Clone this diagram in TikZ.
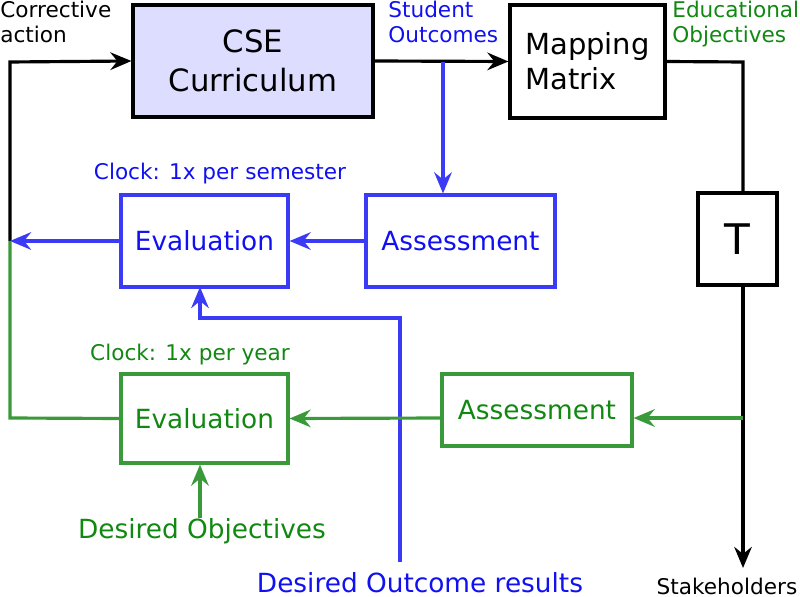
\documentclass[tikz,border=0pt]{standalone}
\usepackage{fontspec}
\setmainfont{DejaVu Sans}
\usetikzlibrary{arrows,arrows.meta,shapes,positioning,calc}
\definecolor{loopblue}{HTML}{3B3BF5}
\definecolor{txtblue}{HTML}{1010F0}
\definecolor{loopgreen}{HTML}{3A9A3A}
\definecolor{txtgreen}{HTML}{118811}
\definecolor{cselav}{HTML}{DDDDFF}
\tikzset{
    box/.style={draw, line width=1.8pt, inner sep=0pt},
    flow/.style={line width=1.8pt, -{Stealth[length=12pt,width=10pt,inset=4pt]}},
    lbl/.style={font=\fontsize{12.3}{14}\selectfont, align=left, inner sep=0pt}
}
\begin{document}
\begin{tikzpicture}[x=0.02cm,y=-0.02cm]
    \useasboundingbox (0,0) rectangle (800,597);
    % Boxes
    \node[box, fill=cselav, minimum width=4.8cm, minimum height=2.24cm, font=\fontsize{17.5}{22}\selectfont, align=center] (cse) at (253,61) {CSE\\Curriculum};
    \node[box, minimum width=3.1cm, minimum height=2.26cm, font=\fontsize{16.5}{20}\selectfont, align=left] (map) at (587.5,61.5) {Mapping\\Matrix};
    \node[box, minimum width=1.58cm, minimum height=1.84cm, font=\fontsize{24}{28}\selectfont] (tau) at (737.5,239) {T};
    \node[box, draw=loopblue, text=txtblue, minimum width=3.78cm, minimum height=1.84cm, font=\fontsize{15}{18}\selectfont] (bassess) at (460.5,241) {Assessment};
    \node[box, draw=loopblue, text=txtblue, minimum width=3.34cm, minimum height=1.84cm, font=\fontsize{15}{18}\selectfont] (beval) at (204.5,241) {Evaluation};
    \node[box, draw=loopgreen, text=txtgreen, minimum width=3.8cm, minimum height=1.44cm, font=\fontsize{15}{18}\selectfont] (gassess) at (537,410) {Assessment};
    \node[box, draw=loopgreen, text=txtgreen, minimum width=3.34cm, minimum height=1.78cm, font=\fontsize{15}{18}\selectfont] (geval) at (204.5,418.5) {Evaluation};
    % Texts
    \node[lbl, anchor=north west] (corr) at (0,1) {Corrective\\action};
    \node[lbl, anchor=north west, text=txtblue] (so) at (388,1) {Student\\Outcomes};
    \node[lbl, anchor=north west, text=txtgreen] (eo) at (672,1) {Educational\\Objectives};
    \node[lbl, text=txtblue] (bclock) at (220,174) {Clock: 1x per semester};
    \node[lbl, text=txtgreen] (gclock) at (190,355) {Clock: 1x per year};
    \node[text=txtgreen, font=\fontsize{15}{18}\selectfont, inner sep=1pt] (dobj) at (202,531) {Desired Objectives};
    \node[text=txtblue, font=\fontsize{15}{18}\selectfont, inner sep=1pt] (dout) at (420,583) {Desired Outcome results};
    \node[lbl] (stake) at (727,586) {Stakeholders};
    % Junctions
    \coordinate (cl) at (10,241);
    \coordinate (so1) at (443,62);
    \coordinate (eo1) at (743,62);
    \coordinate (tj) at (743,418);
    \coordinate (st) at (743,568);
    \coordinate (dout1) at (400,562);
    \coordinate (dobj1) at (200,518);
    % Black path
    \draw[flow] (cse.east) -- (map.west);
    \draw[line width=1.8pt] (map.east) -- (eo1) -- (tau.north -| eo1);
    \draw[flow] (tau.south -| eo1) -- (st);
    \draw[flow] (cl) -- (10,62) -- (cse.west);
    % Blue loop
    \draw[flow, loopblue] (so1) -- (so1 |- bassess.north);
    \draw[flow, loopblue] (bassess.west) -- (beval.east);
    \draw[flow, loopblue] (beval.west) -- (cl);
    \draw[flow, loopblue] (dout1) -- (400,318) -- (200,318) -- (200,287);
    % Green loop
    \draw[flow, loopgreen] (tj) -- (gassess.east |- tj);
    \draw[flow, loopgreen] (gassess.west |- tj) -- (geval.east);
    \draw[line width=1.8pt, loopgreen] (cl) -- (10,418) -- (geval.west);
    \draw[flow, loopgreen] (dobj1) -- (dobj1 |- geval.south);
\end{tikzpicture}
\end{document}
